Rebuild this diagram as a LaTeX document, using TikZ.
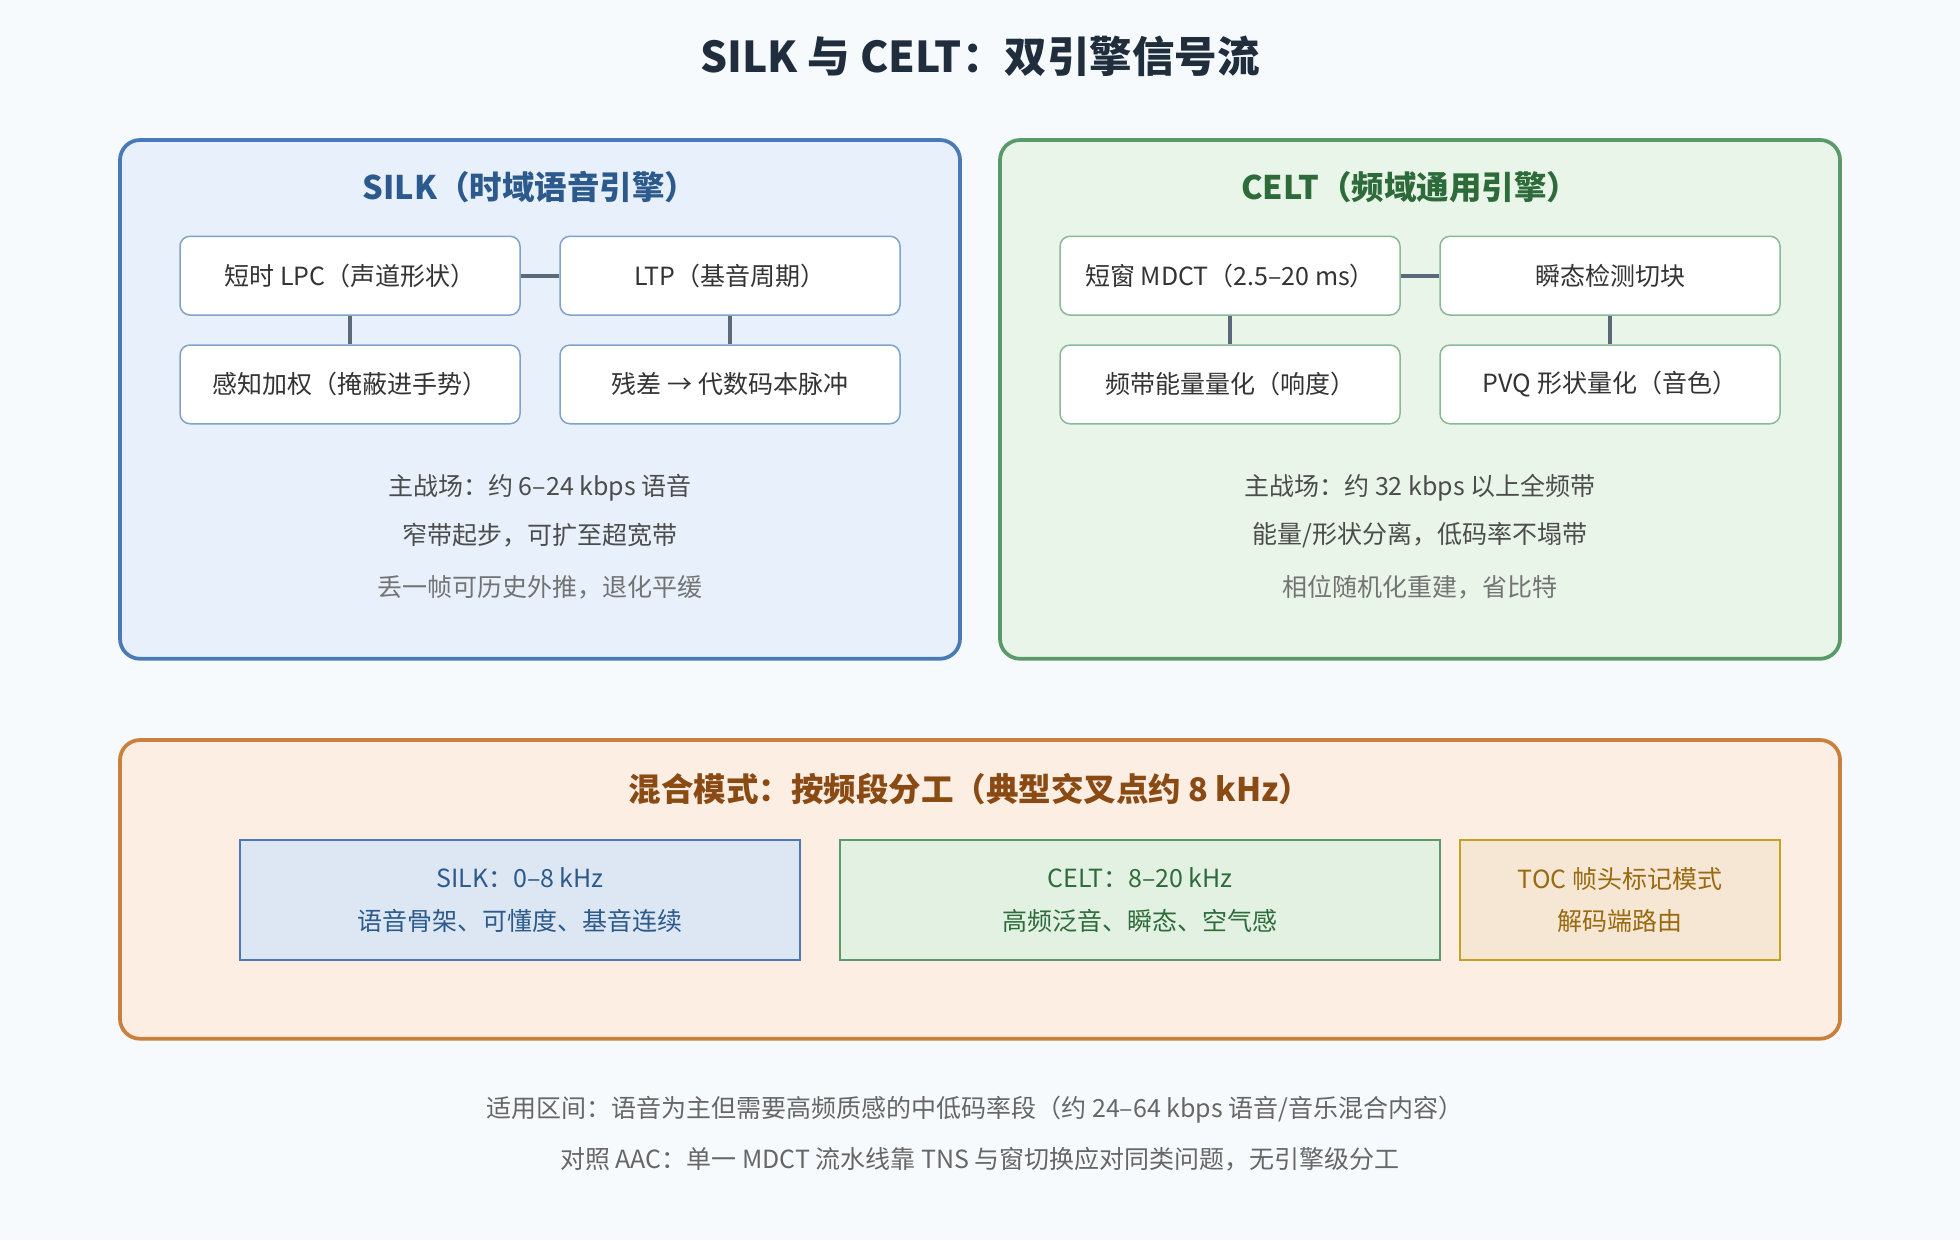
\documentclass[tikz,border=0pt]{standalone}
\usepackage{fontspec}
\setmainfont{Noto Sans CJK SC}
\usepackage{tikz}

\definecolor{bgcol}{HTML}{F7FAFD}
\definecolor{silkline}{HTML}{4A7AB5}
\definecolor{silkfill}{HTML}{E8F0FB}
\definecolor{silkhead}{HTML}{2C5A8C}
\definecolor{silkband}{HTML}{DCE7F3}
\definecolor{celtline}{HTML}{5A9A6A}
\definecolor{celtfill}{HTML}{EAF5EA}
\definecolor{celthead}{HTML}{2E6B3A}
\definecolor{celtband}{HTML}{E3F1E3}
\definecolor{mixline}{HTML}{C8803C}
\definecolor{mixfill}{HTML}{FDEEE4}
\definecolor{mixhead}{HTML}{8A4A14}
\definecolor{tocline}{HTML}{C8A020}
\definecolor{tocfill}{HTML}{F6E6D4}
\definecolor{toctext}{HTML}{9A6A10}
\definecolor{linkcol}{HTML}{5A6A7A}
\definecolor{titlecol}{HTML}{1F2D3D}

\tikzset{
  panel/.style={line width=1.5pt, rounded corners=8pt},
  step/.style={draw=#1, fill=white, line width=0.6pt, rounded corners=4pt,
    minimum width=136pt, minimum height=31.5pt, font=\fontsize{10}{12}\selectfont, text=black!80},
  link/.style={draw=linkcol, line width=1.5pt},
  note/.style={font=\fontsize{10}{12}\selectfont, text=black!70},
  band/.style={line width=0.6pt, minimum height=48pt, align=center,
    font=\fontsize{10}{17}\selectfont},
}

\begin{document}
\begin{tikzpicture}[x=0.5pt,y=-0.5pt]
\fill[bgcol] (0,0) rectangle (1568,992);
\useasboundingbox (0,0) rectangle (1568,992);

% title
\node[text=titlecol] (title) at (784,45) {\fontsize{17}{20}\selectfont\bfseries SILK 与 CELT：双引擎信号流};

% SILK panel
\draw[panel, draw=silkline, fill=silkfill] (96,112) rectangle (768,527);
\node[text=silkhead, font=\fontsize{13}{16}\selectfont\bfseries] (silkhead) at (424,150) {SILK（时域语音引擎）};
\node[step=silkline!70] (lpc) at (280,220.5) {短时 LPC（声道形状）};
\node[step=silkline!70] (ltp) at (584,220.5) {LTP（基音周期）};
\node[step=silkline!70] (weight) at (280,307.5) {感知加权（掩蔽进手势）};
\node[step=silkline!70] (resid) at (584,307.5) {残差 → 代数码本脉冲};
\draw[link] (lpc) -- (ltp);
\draw[link] (lpc) -- (weight);
\draw[link] (ltp) -- (resid);
\node[note] (silka) at (432,390) {主战场：约 6–24 kbps 语音};
\node[note] (silkb) at (432,428) {窄带起步，可扩至超宽带};
\node[note, text=black!55] (silkc) at (432,470) {丢一帧可历史外推，退化平缓};

% CELT panel
\draw[panel, draw=celtline, fill=celtfill] (800,112) rectangle (1472,527);
\node[text=celthead, font=\fontsize{13}{16}\selectfont\bfseries] (celthead) at (1128,150) {CELT（频域通用引擎）};
\node[step=celtline!70] (mdct) at (984,220.5) {短窗 MDCT（2.5–20 ms）};
\node[step=celtline!70] (trans) at (1288,220.5) {瞬态检测切块};
\node[step=celtline!70] (energy) at (984,307.5) {频带能量量化（响度）};
\node[step=celtline!70] (pvq) at (1288,307.5) {PVQ 形状量化（音色）};
\draw[link] (mdct) -- (trans);
\draw[link] (mdct) -- (energy);
\draw[link] (trans) -- (pvq);
\node[note] (celta) at (1136,390) {主战场：约 32 kbps 以上全频带};
\node[note] (celtb) at (1136,428) {能量/形状分离，低码率不塌带};
\node[note, text=black!55] (celtc) at (1136,470) {相位随机化重建，省比特};

% hybrid mode
\draw[panel, draw=mixline, fill=mixfill] (96,592) rectangle (1472,831);
\node[text=mixhead, font=\fontsize{13}{16}\selectfont\bfseries] (mixhead) at (776,631) {混合模式：按频段分工（典型交叉点约 8 kHz）};
\node[band, draw=silkline, fill=silkband, text=silkhead, minimum width=224pt] (lowband) at (416,720) {SILK：0–8 kHz\\语音骨架、可懂度、基音连续};
\node[band, draw=celtline, fill=celtband, text=celthead, minimum width=240pt] (highband) at (912,720) {CELT：8–20 kHz\\高频泛音、瞬态、空气感};
\node[band, draw=tocline, fill=tocfill, text=toctext, minimum width=128pt] (toc) at (1296,720) {TOC 帧头标记模式\\解码端路由};

% footer
\node[note, text=black!60] (usage) at (780,888) {适用区间：语音为主但需要高频质感的中低码率段（约 24–64 kbps 语音/音乐混合内容）};
\node[note, text=black!60] (aac) at (784,927) {对照 AAC：单一 MDCT 流水线靠 TNS 与窗切换应对同类问题，无引擎级分工};
\end{tikzpicture}
\end{document}
